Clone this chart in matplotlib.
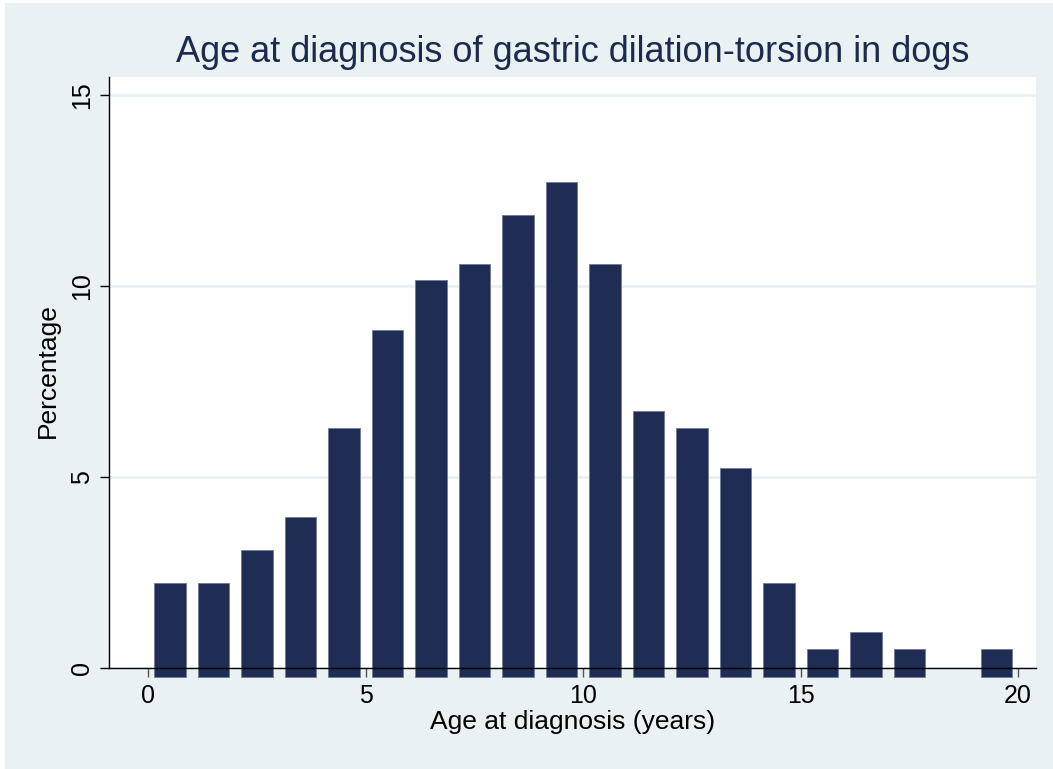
import numpy as np
import matplotlib
matplotlib.use("Agg")
import matplotlib.pyplot as plt
from matplotlib.patches import Rectangle

plt.rcParams["font.family"] = ["Liberation Sans", "DejaVu Sans"]

# Percentage of dogs per one-year age bin (bin midpoints 0.5 .. 19.5)
age_bins = [0.5, 1.5, 2.5, 3.5, 4.5, 5.5, 6.5, 7.5, 8.5, 9.5,
            10.5, 11.5, 12.5, 13.5, 14.5, 15.5, 16.5, 17.5, 18.5, 19.5]
percentage = [2.22, 2.22, 3.09, 3.95, 6.28, 8.85, 10.16, 10.58, 11.86, 12.72,
              10.58, 6.73, 6.28, 5.24, 2.22, 0.50, 0.93, 0.50, 0.0, 0.50]
x_ticks = [0, 5, 10, 15, 20]
y_ticks = [0, 5, 10, 15]

bg = "#e9f1f3"
bar_color = "#1f2d54"

fig = plt.figure(figsize=(10.53, 7.69), dpi=100, facecolor="white")
# light backdrop, leaving a thin white strip on top and left
fig.patches.append(Rectangle((5 / 1053, 0), 1, 1 - 3 / 769,
                             transform=fig.transFigure, facecolor=bg,
                             edgecolor="none", zorder=-10))

ax = fig.add_axes([109 / 1053, 101 / 769, 927 / 1053, 591 / 769])
ax.set_facecolor("white")

# Stata draws bars a little below the zero line
below = 0.24
heights = np.array(percentage)
mask = heights > 0
ax.bar(np.array(age_bins)[mask], heights[mask] + below, bottom=-below,
       width=0.72, color=bar_color, edgecolor="#6f7a96", linewidth=0.6,
       clip_on=False, zorder=3)

ax.set_xlim(-0.9, 20.41)
ax.set_ylim(0, 15.47)

ax.set_xticks(x_ticks)
ax.set_yticks(y_ticks)
ax.tick_params(axis="both", direction="out", length=6.5, width=1,
               labelsize=18, colors="black")
ax.tick_params(axis="x", colors="#555555", labelcolor="black", pad=5)
ax.tick_params(axis="y", labelrotation=90, pad=4)
for lab in ax.get_yticklabels():
    lab.set_verticalalignment("center")

ax.grid(axis="y", color=bg, linewidth=2, zorder=0)
ax.set_axisbelow(True)
for s in ["top", "right"]:
    ax.spines[s].set_visible(False)
for s in ["left", "bottom"]:
    ax.spines[s].set_color("black")
    ax.spines[s].set_linewidth(1)
    ax.spines[s].set_zorder(4)

fig.text(573 / 1053, 1 - 52 / 769, "Age at diagnosis of gastric dilation-torsion in dogs",
         ha="center", va="center", fontsize=26, color="#1c2a4e")
fig.text(573 / 1053, 1 - 722 / 769, "Age at diagnosis (years)",
         ha="center", va="center", fontsize=19, color="black")
fig.text(48 / 1053, 1 - 371 / 769, "Percentage", rotation=90,
         ha="center", va="center", fontsize=19, color="black")

fig.savefig("out.png", dpi=100, facecolor=fig.get_facecolor())
